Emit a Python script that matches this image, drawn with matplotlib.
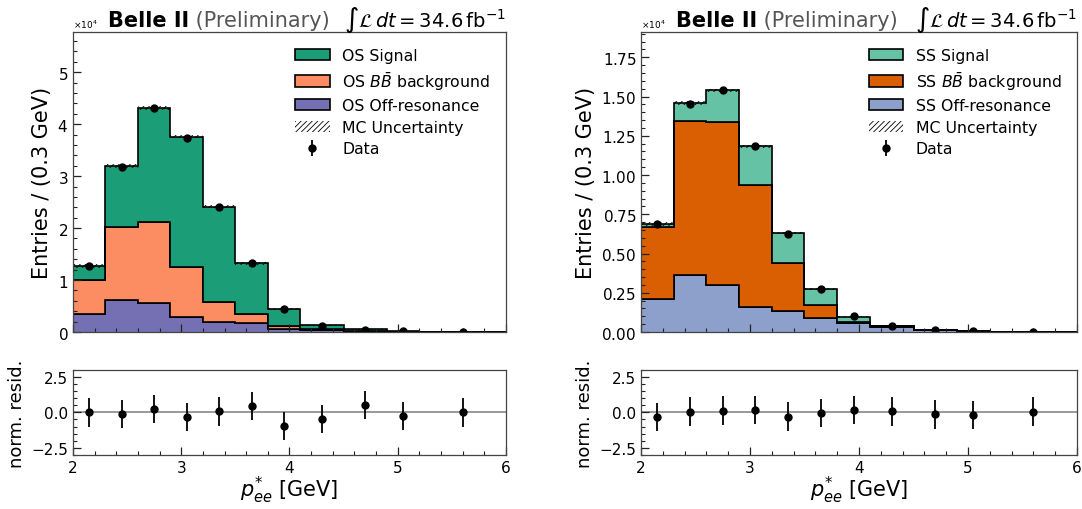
import numpy as np
import matplotlib
matplotlib.use("Agg")
import matplotlib.pyplot as plt
from matplotlib.ticker import AutoMinorLocator, ScalarFormatter, MultipleLocator

# --- data (entries per bin) ---
edges = [2.0, 2.3, 2.6, 2.9, 3.2, 3.5, 3.8, 4.1, 4.5, 4.9, 5.2, 6.0]

os_off = [3400, 6100, 5500, 2800, 2000, 1700, 650, 300, 150, 50, 30]
os_bb = [6550, 14100, 15700, 9800, 3800, 1800, 500, 200, 80, 30, 20]
os_sig = [2750, 11700, 21900, 25000, 18300, 9700, 3250, 800, 270, 40, 10]
os_unc = [300, 350, 400, 350, 300, 250, 150, 60, 30, 10, 5]
os_data = [12700, 31700, 43100, 37300, 24000, 13200, 4400, 1150, 420, 120, 60]

ss_off = [2130, 3630, 2970, 1620, 1320, 875, 560, 340, 130, 35, 15]
ss_bb = [4550, 9840, 10390, 7770, 3100, 855, 80, 20, 10, 3, 3]
ss_sig = [220, 1110, 2030, 2450, 1880, 1000, 320, 20, 10, 2, 2]
ss_unc = [120, 120, 120, 100, 80, 50, 30, 15, 8, 3, 2]
ss_data = [6880, 14530, 15430, 11870, 6250, 2730, 1010, 400, 160, 45, 25]

# normalised residuals
os_resid = [0.0, -0.1, 0.24, -0.33, 0.07, 0.45, -0.94, -0.47, 0.52, -0.26, 0.0]
ss_resid = [-0.33, 0.05, 0.12, 0.17, -0.3, -0.05, 0.17, 0.07, -0.14, -0.19, 0.05]
resid_err = [1.0, 1.0, 1.0, 1.0, 1.0, 1.0, 1.0, 1.0, 1.0, 1.0, 1.0]

plt.rcParams['hatch.linewidth'] = 0.6
plt.rcParams['font.family'] = ['DejaVu Sans']

SPINE = '#444444'


def style_axis(ax, labelsize):
    ax.tick_params(which='both', direction='in', top=False, right=False,
                   labelsize=labelsize, color='#222222')
    ax.tick_params(which='major', length=6, width=0.9)
    ax.tick_params(which='minor', length=3, width=0.8)
    ax.xaxis.set_minor_locator(AutoMinorLocator(5))
    ax.yaxis.set_minor_locator(AutoMinorLocator(5))
    for s in ax.spines.values():
        s.set_color(SPINE)
        s.set_linewidth(0.9)


def draw_panel(ax, rax, off, bb, sig, unc, data, resid, colors, labels, ymax, ymajor):
    centers = 0.5 * (np.array(edges[:-1]) + np.array(edges[1:]))
    off = np.array(off, float)
    bb = np.array(bb, float)
    sig = np.array(sig, float)
    unc = np.array(unc, float)
    data = np.array(data, float)

    c1 = off
    c2 = off + bb
    c3 = off + bb + sig

    h_off = ax.stairs(c1, edges, baseline=0, fill=True, facecolor=colors[2],
                      edgecolor='black', linewidth=1.2)
    h_bb = ax.stairs(c2, edges, baseline=c1, fill=True, facecolor=colors[1],
                     edgecolor='black', linewidth=1.2)
    h_sig = ax.stairs(c3, edges, baseline=c2, fill=True, facecolor=colors[0],
                      edgecolor='black', linewidth=1.2)
    h_unc = ax.stairs(c3 + unc, edges, baseline=c3 - unc, fill=True, facecolor='none',
                      edgecolor='black', linewidth=0, hatch='//////')
    h_data = ax.errorbar(centers, data, yerr=np.sqrt(data), fmt='o', color='black',
                         ms=5, elinewidth=1.3, capsize=0)

    ax.set_xlim(2, 6)
    ax.set_ylim(0, ymax)
    ax.yaxis.set_major_locator(MultipleLocator(ymajor))
    fmt = ScalarFormatter(useMathText=True)
    fmt.set_powerlimits((0, 0))
    ax.yaxis.set_major_formatter(fmt)
    ax.yaxis.get_offset_text().set_fontsize(6.5)
    ax.xaxis.set_major_locator(MultipleLocator(1))
    ax.set_xticklabels([])
    style_axis(ax, 11)
    ax.set_ylabel('Entries / (0.3 GeV)', fontsize=15)

    ax.legend([h_sig, h_bb, h_off, h_unc, h_data],
              [labels[0], labels[1], labels[2], 'MC Uncertainty', 'Data'],
              loc='upper right', frameon=False, fontsize=11.3, handlelength=2.2,
              handleheight=0.75, labelspacing=0.42, borderaxespad=0.6)

    # experiment label
    t1 = ax.text(0.08, 1.02, 'Belle II', transform=ax.transAxes, fontsize=15,
                 fontweight='bold', va='baseline', ha='left')
    ax.annotate(' (Preliminary)', xy=(1, 0), xycoords=t1, fontsize=15,
                color='#555555', va='bottom', ha='left')
    ax.text(1.0, 1.02, r'$\int\mathcal{L}\,dt = 34.6\,\mathrm{fb}^{-1}$',
            transform=ax.transAxes, fontsize=14, va='baseline', ha='right')

    # residual panel
    rax.axhline(0, color='#888888', lw=1.2, zorder=0)
    rax.errorbar(centers, resid, yerr=resid_err, fmt='o', color='black', ms=5,
                 elinewidth=1.3, capsize=0)
    rax.set_xlim(2, 6)
    rax.set_ylim(-3, 3)
    rax.set_yticks([-2.5, 0, 2.5])
    rax.set_yticklabels(['\u22122.5', '0.0', '2.5'])
    rax.xaxis.set_major_locator(MultipleLocator(1))
    style_axis(rax, 11)
    rax.set_ylabel('norm. resid.', fontsize=13)
    rax.set_xlabel(r'$p^{*}_{ee}$ [GeV]', fontsize=15, labelpad=-1)


fig = plt.figure(figsize=(10.82, 5.1), dpi=100)

ax1 = fig.add_axes([0.0675, 0.347, 0.400, 0.588])
rax1 = fig.add_axes([0.0675, 0.106, 0.400, 0.167])
ax2 = fig.add_axes([0.5924, 0.347, 0.403, 0.588])
rax2 = fig.add_axes([0.5924, 0.106, 0.403, 0.167])

draw_panel(ax1, rax1, os_off, os_bb, os_sig, os_unc, os_data, os_resid,
           ['#1b9e77', '#fc8d62', '#7570b3'],
           ['OS Signal', r'OS $B\bar{B}$ background', 'OS Off-resonance'],
           57700, 10000)
draw_panel(ax2, rax2, ss_off, ss_bb, ss_sig, ss_unc, ss_data, ss_resid,
           ['#66c2a5', '#d95f02', '#8da0cb'],
           ['SS Signal', r'SS $B\bar{B}$ background', 'SS Off-resonance'],
           19100, 2500)

fig.savefig('out.png', dpi=100)
